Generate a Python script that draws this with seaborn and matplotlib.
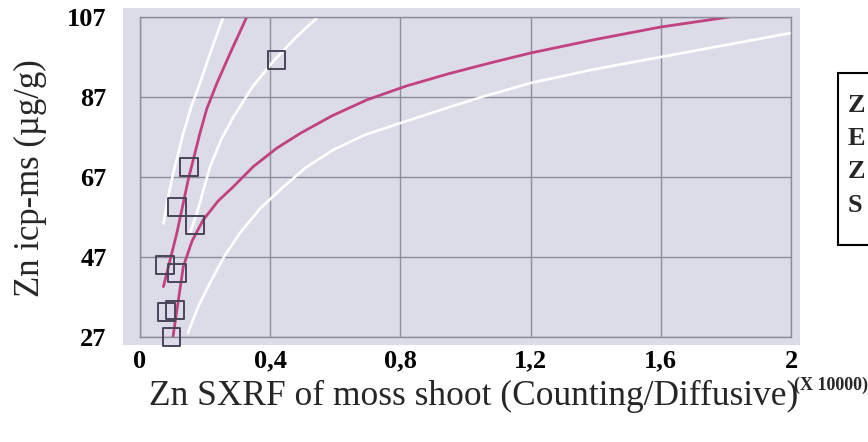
import matplotlib
matplotlib.use("Agg")
import pandas as pd
import seaborn as sns
from matplotlib import pyplot as plt
from matplotlib.patches import Rectangle

# Measured samples (X in units of 10000 counts)
sample_x = [0.42, 0.15, 0.113, 0.169, 0.077, 0.113, 0.082, 0.107, 0.097]
sample_y = [96.2, 69.5, 59.5, 55.0, 45.0, 43.0, 33.3, 33.8, 27.0]

# Fitted curves (magenta)
fit_a_x = [0.072, 0.113, 0.148, 0.184, 0.205, 0.236, 0.28, 0.328]
fit_a_y = [39.6, 52.9, 66.25, 77.9, 84.0, 90.4, 98.5, 107.0]
fit_b_x = [0.097, 0.133, 0.16, 0.194, 0.24, 0.287, 0.348, 0.42, 0.492, 0.59, 0.696,
           0.82, 0.952, 1.08, 1.2, 1.4, 1.6, 1.81]
fit_b_y = [24.6, 44.6, 51.0, 56.25, 61.0, 64.6, 69.6, 74.2, 77.9, 82.3, 86.25,
           89.8, 92.9, 95.6, 98.0, 101.4, 104.5, 107.0]

# Limit curves (white)
lim_a_x = [0.072, 0.086, 0.102, 0.133, 0.157, 0.184, 0.218, 0.256]
lim_a_y = [55.4, 61.8, 67.9, 77.9, 84.5, 90.4, 98.5, 107.0]
lim_b_x = [0.154, 0.175, 0.215, 0.25, 0.287, 0.345, 0.41, 0.48, 0.553]
lim_b_y = [53.0, 58.0, 69.5, 76.5, 82.0, 89.5, 96.0, 102.0, 107.5]
lim_c_x = [0.147, 0.18, 0.215, 0.26, 0.307, 0.37, 0.44, 0.51, 0.593, 0.69, 0.80,
           0.952, 1.05, 1.2, 1.4, 1.6, 1.8, 2.0]
lim_c_y = [28.0, 34.8, 40.5, 47.3, 53.0, 59.2, 64.5, 69.4, 73.75, 77.5, 80.5,
           84.5, 87.0, 90.5, 94.0, 97.0, 100.0, 103.0]

x_ticks = [0, 0.4, 0.8, 1.2, 1.6, 2]
x_tick_labels = ["0", "0,4", "0,8", "1,2", "1,6", "2"]
y_ticks = [27, 47, 67, 87, 107]
legend_letters = ["Z", "E", "Z", "S"]

W, H = 868, 442
bg = "#dcdce8"
grid_col = "#8c8c9c"
magenta = "#c2427f"

sns.set_theme(style="white")
plt.rcParams['font.family'] = ['Liberation Serif', 'DejaVu Serif']

fig = plt.figure(figsize=(W / 100, H / 100), dpi=100)
fig.patch.set_facecolor("white")
# lavender panel slightly bigger than the axes frame
fig.patches.append(Rectangle((123 / W, 1 - 345 / H), (800 - 123) / W, (345 - 8) / H,
                             transform=fig.transFigure, facecolor=bg, edgecolor="none", zorder=-1))
ax = fig.add_axes([140 / W, 1 - 337 / H, (791 - 140) / W, (337 - 17) / H])
ax.set_zorder(1)
ax.set_facecolor(bg)

curves = [(lim_a_x, lim_a_y, "white", 1.9), (lim_b_x, lim_b_y, "white", 1.9),
          (lim_c_x, lim_c_y, "white", 1.9),
          (fit_a_x, fit_a_y, magenta, 2.0), (fit_b_x, fit_b_y, magenta, 2.0)]
for cx, cy, col, lw in curves:
    df = pd.DataFrame({'x': cx, 'y': cy})
    sns.lineplot(data=df, x='x', y='y', sort=False, estimator=None, color=col, linewidth=lw, ax=ax)

pts = pd.DataFrame({'x': sample_x, 'y': sample_y})
sns.scatterplot(data=pts, x='x', y='y', marker='s', s=160, facecolor='none',
                edgecolor='#4a4458', linewidth=1.4, ax=ax, zorder=5, clip_on=False)

ax.set_xlim(0, 2)
ax.set_ylim(27, 107)
ax.set_xticks(x_ticks)
ax.set_xticklabels(x_tick_labels)
ax.set_yticks(y_ticks)
ax.grid(True, color=grid_col, linewidth=1)
for sp in ax.spines.values():
    sp.set_color(grid_col)
    sp.set_linewidth(1)
ax.tick_params(axis="y", length=0, labelsize=19, pad=24, colors="black")
ax.tick_params(axis="x", length=0, labelsize=19, pad=9, colors="black")
for lab in ax.get_xticklabels() + ax.get_yticklabels():
    lab.set_fontweight("bold")

ax.set_xlabel("")
ax.set_ylabel("")
fig.text(474 / W, 1 - 396 / H, "Zn SXRF of moss shoot (Counting/Diffusive)",
         ha="center", va="center", fontsize=25.5)
fig.text(30 / W, 1 - 178 / H, "Zn icp-ms (µg/g)", rotation=90,
         ha="center", va="center", fontsize=25)
fig.text(831 / W, 1 - 385 / H, "(X 10000)", ha="center", va="center",
         fontsize=13, fontweight="bold")

# partially visible legend box on the right edge
fig.patches.append(Rectangle((838 / W, 1 - 245 / H), 40 / W, (245 - 73) / H,
                             transform=fig.transFigure, facecolor="white",
                             edgecolor="black", linewidth=1.5, zorder=3))
for i, letter in enumerate(legend_letters):
    fig.text(848 / W, 1 - (105 + i * 33.5) / H, letter, ha="left", va="center",
             fontsize=19, fontweight="bold", zorder=4)

fig.savefig("out.png", dpi=100)
